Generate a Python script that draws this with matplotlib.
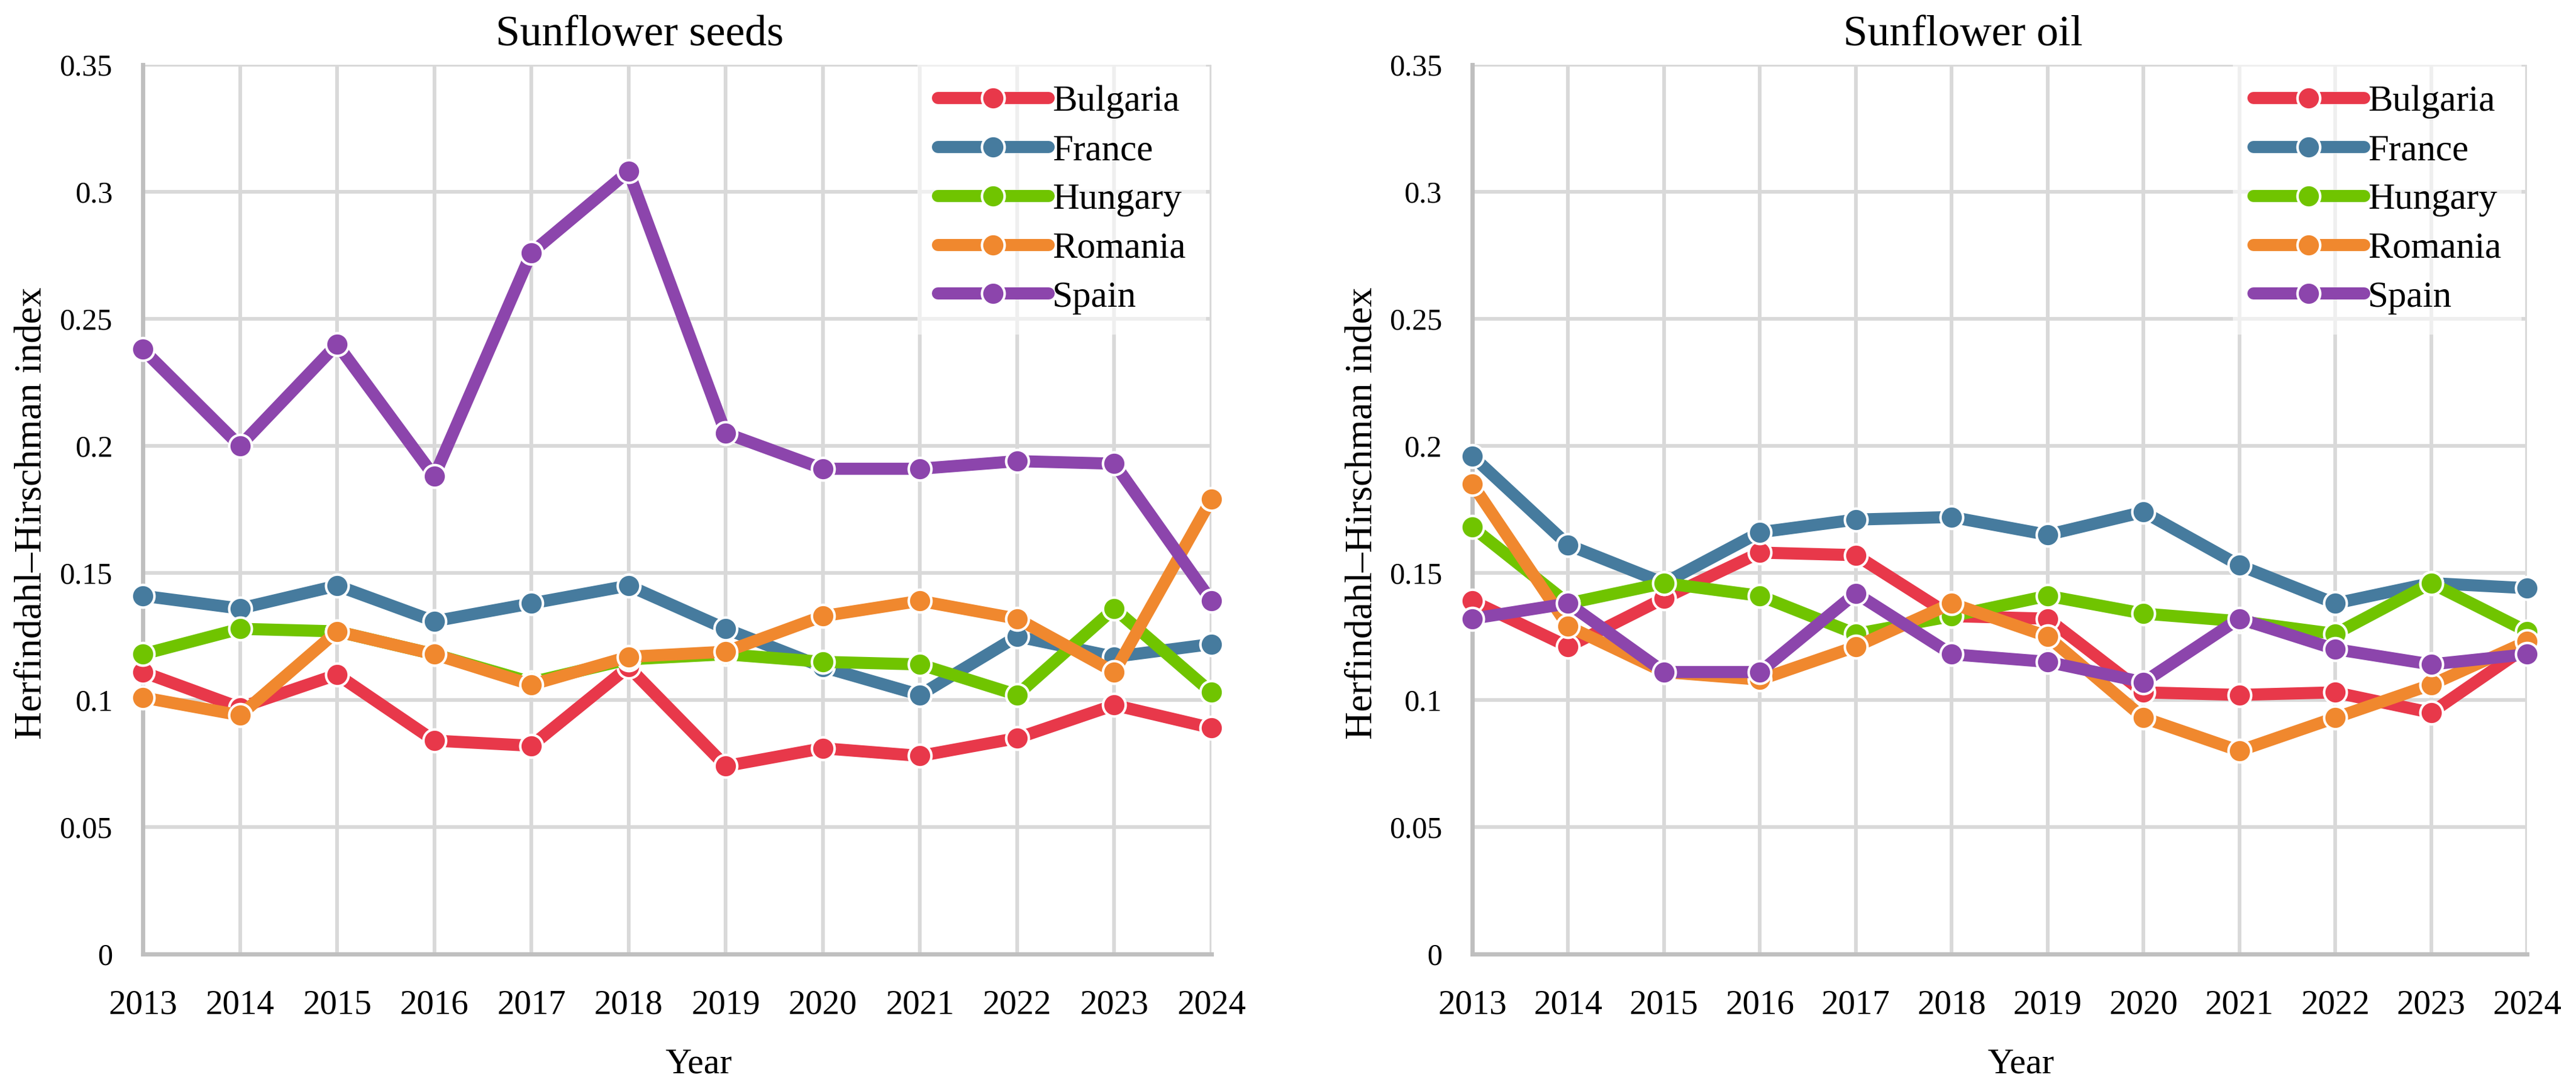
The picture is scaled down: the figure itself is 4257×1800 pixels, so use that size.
import matplotlib
matplotlib.use("Agg")
import matplotlib.pyplot as plt

plt.rcParams['font.family'] = ['Liberation Serif', 'DejaVu Serif']

years = [2013, 2014, 2015, 2016, 2017, 2018, 2019, 2020, 2021, 2022, 2023, 2024]
countries = ["Bulgaria", "France", "Hungary", "Romania", "Spain"]
colors = ["#E8384A", "#467B9E", "#70C400", "#F0882E", "#8C45AC"]

# Herfindahl-Hirschman index, sunflower seeds
seeds_bulgaria = [0.111, 0.097, 0.110, 0.084, 0.082, 0.113, 0.074, 0.081, 0.078, 0.085, 0.098, 0.089]
seeds_france = [0.141, 0.136, 0.145, 0.131, 0.138, 0.145, 0.128, 0.113, 0.102, 0.125, 0.117, 0.122]
seeds_hungary = [0.118, 0.128, 0.127, 0.118, 0.107, 0.116, 0.118, 0.115, 0.114, 0.102, 0.136, 0.103]
seeds_romania = [0.101, 0.094, 0.127, 0.118, 0.106, 0.117, 0.119, 0.133, 0.139, 0.132, 0.111, 0.179]
seeds_spain = [0.238, 0.200, 0.240, 0.188, 0.276, 0.308, 0.205, 0.191, 0.191, 0.194, 0.193, 0.139]

# Herfindahl-Hirschman index, sunflower oil
oil_bulgaria = [0.139, 0.121, 0.140, 0.158, 0.157, 0.133, 0.132, 0.103, 0.102, 0.103, 0.095, 0.121]
oil_france = [0.196, 0.161, 0.146, 0.166, 0.171, 0.172, 0.165, 0.174, 0.153, 0.138, 0.146, 0.144]
oil_hungary = [0.168, 0.138, 0.146, 0.141, 0.126, 0.133, 0.141, 0.134, 0.131, 0.126, 0.146, 0.127]
oil_romania = [0.185, 0.129, 0.111, 0.108, 0.121, 0.138, 0.125, 0.093, 0.080, 0.093, 0.106, 0.123]
oil_spain = [0.132, 0.138, 0.111, 0.111, 0.142, 0.118, 0.115, 0.107, 0.132, 0.120, 0.114, 0.118]

yticks = [0, 0.05, 0.1, 0.15, 0.2, 0.25, 0.3, 0.35]
ytick_labels = ["0", "0.05", "0.1", "0.15", "0.2", "0.25", "0.3", "0.35"]

panels = [
    ("Sunflower seeds", [seeds_bulgaria, seeds_france, seeds_hungary, seeds_romania, seeds_spain],
     [236 / 4257, 1 - 1577 / 1800, 1766 / 4257, 1470 / 1800]),
    ("Sunflower oil", [oil_bulgaria, oil_france, oil_hungary, oil_romania, oil_spain],
     [2433 / 4257, 1 - 1577 / 1800, 1743 / 4257, 1470 / 1800]),
]

fig = plt.figure(figsize=(4257 / 200, 1800 / 200), dpi=200)

for title, series, rect in panels:
    ax = fig.add_axes(rect)
    for name, vals, col in zip(countries, series, colors):
        ax.plot(years, vals, color=col, lw=7.2, marker="o", ms=13.5,
                mfc=col, mec="white", mew=1.5, label=name, clip_on=False,
                solid_capstyle="round", solid_joinstyle="round")
    ax.set_xlim(years[0], years[-1])
    ax.set_ylim(0, 0.35)
    ax.set_xticks(years)
    ax.set_xticklabels([str(y) for y in years], fontsize=20.5)
    ax.set_yticks(yticks)
    ax.set_yticklabels(ytick_labels, fontsize=18)
    ax.tick_params(axis="x", length=0, pad=21)
    ax.tick_params(axis="y", length=0, pad=18)
    ax.grid(True, color="#D9D9D9", lw=2.2)
    ax.set_axisbelow(True)
    for s in ("top", "right"):
        ax.spines[s].set_visible(False)
    for s in ("left", "bottom"):
        ax.spines[s].set_color("#BFBFBF")
        ax.spines[s].set_linewidth(2.5)
        ax.spines[s].set_zorder(1.5)

    ax.text(0.465, 1.0 + 49 / 1470, title, transform=ax.transAxes,
            ha="center", va="center", fontsize=26)
    ax.text(0.52, (1577 - 1759) / 1470, "Year", transform=ax.transAxes,
            ha="center", va="center", fontsize=21.5)
    ax.text(-0.104, 0.496, "Herfindahl–Hirschman index", transform=ax.transAxes,
            ha="center", va="center", rotation=90, fontsize=23)

    leg = ax.legend(loc="upper right", bbox_to_anchor=(0.995, 1.0), fontsize=22,
                    frameon=True, framealpha=0.6, edgecolor="none",
                    handlelength=3.0, handletextpad=0.1, labelspacing=0.41,
                    borderpad=0.55, borderaxespad=0.0, fancybox=False)
    leg.get_frame().set_linewidth(0)

fig.savefig("out.png", dpi=200)
